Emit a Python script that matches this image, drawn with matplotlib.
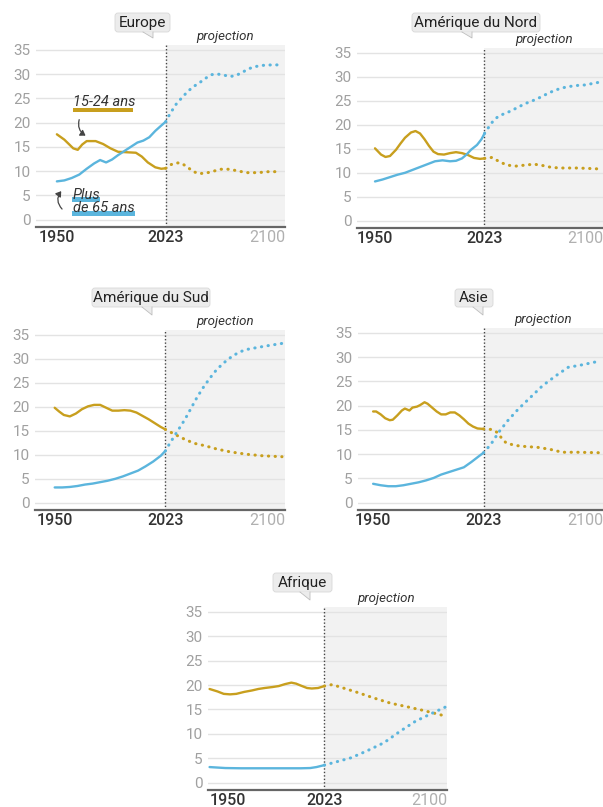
import matplotlib
matplotlib.use("Agg")
import matplotlib.pyplot as plt
from matplotlib.patches import FancyBboxPatch, Polygon, Rectangle, FancyArrowPatch

plt.rcParams["font.family"] = ["Roboto", "DejaVu Sans"]

# ---------------------------------------------------------------------------
# Data: share of population (%) by age group, history + projection to 2100
# ---------------------------------------------------------------------------
regions = ["Europe", "Amérique du Nord", "Amérique du Sud", "Asie", "Afrique"]
y_ticks = [0, 5, 10, 15, 20, 25, 30, 35]
x_ticks = [1950, 2023, 2100]
split_year = 2023

eu_young_years = [1950, 1955, 1961, 1964, 1967, 1970, 1976, 1981, 1986, 1991, 1997, 2003, 2007,
                  2011, 2016, 2020, 2023, 2026, 2030, 2033, 2037, 2041, 2045, 2050, 2055, 2060,
                  2066, 2072, 2078, 2085, 2092, 2100]
eu_young = [17.6, 16.5, 14.7, 14.4, 15.5, 16.2, 16.2, 15.6, 14.7, 14.0, 13.9, 13.8, 13.0,
            11.8, 10.8, 10.5, 10.6, 11.3, 11.7, 11.7, 11.0, 10.0, 9.5, 9.6, 10.0, 10.4,
            10.4, 10.0, 9.7, 9.7, 9.9, 9.9]
eu_old_years = [1950, 1955, 1960, 1965, 1970, 1975, 1979, 1983, 1987, 1991, 1996, 2000, 2004,
                2008, 2012, 2016, 2020, 2023, 2026, 2030, 2034, 2038, 2042, 2046, 2050, 2054,
                2058, 2062, 2066, 2070, 2074, 2078, 2082, 2088, 2094, 2100]
eu_old = [7.9, 8.1, 8.6, 9.3, 10.5, 11.6, 12.3, 11.8, 12.4, 13.3, 14.3, 15.1, 15.9,
          16.3, 17.0, 18.3, 19.4, 20.2, 21.9, 23.8, 25.2, 26.5, 27.5, 28.3, 29.2, 29.9,
          30.0, 29.8, 29.5, 29.7, 30.3, 31.0, 31.5, 31.8, 31.9, 31.9]

na_young_years = [1950, 1954, 1957, 1960, 1964, 1967, 1970, 1974, 1977, 1980, 1983, 1986, 1989,
                  1992, 1996, 2000, 2004, 2008, 2012, 2016, 2020, 2023, 2028, 2033, 2038, 2044,
                  2050, 2056, 2062, 2068, 2075, 2085, 2093, 2100]
na_young = [15.1, 13.8, 13.3, 13.5, 14.8, 16.1, 17.3, 18.4, 18.7, 18.2, 17.0, 15.6, 14.4,
            13.9, 13.8, 14.1, 14.3, 14.1, 13.7, 13.1, 12.9, 13.0, 13.2, 12.3, 11.6, 11.4,
            11.6, 11.8, 11.5, 11.1, 11.0, 11.0, 10.9, 10.8]
na_old_years = [1950, 1955, 1960, 1965, 1970, 1975, 1980, 1985, 1990, 1995, 2000, 2004, 2008,
                2011, 2014, 2018, 2021, 2023, 2026, 2029, 2032, 2036, 2040, 2045, 2050, 2055,
                2060, 2065, 2070, 2075, 2080, 2085, 2090, 2095, 2100]
na_old = [8.2, 8.6, 9.1, 9.6, 10.0, 10.6, 11.2, 11.8, 12.4, 12.6, 12.4, 12.5, 13.0,
          13.8, 14.8, 15.8, 17.0, 18.2, 19.6, 20.9, 21.7, 22.3, 22.8, 23.6, 24.4, 25.0,
          25.7, 26.5, 27.2, 27.7, 28.0, 28.2, 28.3, 28.6, 28.9]

sa_young_years = [1950, 1953, 1956, 1960, 1964, 1968, 1972, 1976, 1980, 1984, 1988, 1992, 1996,
                  2000, 2004, 2008, 2012, 2016, 2020, 2023, 2029, 2036, 2042, 2049, 2057, 2066,
                  2077, 2087, 2100]
sa_young = [19.8, 19.0, 18.3, 18.0, 18.6, 19.5, 20.1, 20.4, 20.4, 19.8, 19.2, 19.2, 19.3,
            19.2, 18.8, 18.1, 17.4, 16.6, 15.8, 15.3, 14.3, 13.2, 12.4, 11.9, 11.2, 10.6,
            10.1, 9.8, 9.6]
sa_old_years = [1950, 1955, 1960, 1965, 1970, 1975, 1980, 1985, 1990, 1995, 2000, 2005, 2010,
                2015, 2020, 2023, 2026, 2029, 2033, 2036, 2040, 2044, 2048, 2052, 2056, 2060,
                2064, 2068, 2072, 2076, 2081, 2090, 2100]
sa_old = [3.2, 3.2, 3.3, 3.5, 3.8, 4.0, 4.3, 4.6, 5.0, 5.5, 6.1, 6.7, 7.6,
          8.6, 9.8, 10.8, 12.4, 13.9, 15.9, 17.4, 19.7, 22.0, 24.0, 25.8, 27.4, 28.7,
          29.8, 30.7, 31.4, 31.9, 32.2, 32.7, 33.2]

as_young_years = [1950, 1952, 1955, 1958, 1961, 1963, 1966, 1969, 1971, 1974, 1976, 1979, 1981,
                  1984, 1986, 1989, 1992, 1995, 1998, 2001, 2004, 2007, 2010, 2013, 2016, 2019,
                  2023, 2028, 2032, 2035, 2038, 2044, 2050, 2059, 2067, 2075, 2085, 2100]
as_young = [18.8, 18.8, 18.2, 17.4, 17.0, 17.1, 18.0, 19.0, 19.4, 19.0, 19.6, 19.8, 20.1,
            20.7, 20.4, 19.6, 18.8, 18.2, 18.2, 18.6, 18.6, 18.0, 17.2, 16.3, 15.7, 15.3,
            15.2, 15.1, 14.5, 13.3, 12.3, 11.8, 11.6, 11.4, 11.0, 10.4, 10.4, 10.3]
as_old_years = [1950, 1955, 1960, 1965, 1970, 1975, 1980, 1985, 1990, 1995, 2000, 2005, 2010,
                2015, 2020, 2023, 2028, 2033, 2039, 2046, 2054, 2062, 2071, 2079, 2088, 2097,
                2100]
as_old = [3.9, 3.6, 3.4, 3.4, 3.6, 3.9, 4.2, 4.6, 5.1, 5.8, 6.3, 6.8, 7.3,
          8.4, 9.6, 10.3, 12.1, 14.5, 16.9, 19.3, 21.7, 24.1, 26.2, 27.9, 28.4, 29.0,
          29.1]

af_young_years = [1950, 1955, 1959, 1963, 1967, 1972, 1977, 1981, 1985, 1990, 1994, 1998, 2002,
                  2005, 2008, 2012, 2015, 2019, 2023, 2028, 2035, 2044, 2054, 2065, 2075, 2086,
                  2097, 2100]
af_young = [19.2, 18.7, 18.2, 18.1, 18.2, 18.6, 18.9, 19.2, 19.4, 19.6, 19.8, 20.2, 20.5,
            20.3, 19.9, 19.4, 19.3, 19.4, 19.8, 20.1, 19.4, 18.5, 17.4, 16.3, 15.6, 14.8,
            13.9, 13.6]
af_old_years = [1950, 1960, 1970, 1980, 1990, 2000, 2008, 2014, 2018, 2023, 2031, 2040, 2050,
                2061, 2071, 2081, 2092, 2100]
af_old = [3.2, 3.0, 2.95, 2.95, 2.95, 2.95, 2.95, 3.0, 3.2, 3.6, 4.3, 5.1, 6.5,
          8.2, 10.5, 12.6, 14.3, 15.5]

young_series = [(eu_young_years, eu_young), (na_young_years, na_young), (sa_young_years, sa_young),
                (as_young_years, as_young), (af_young_years, af_young)]
old_series = [(eu_old_years, eu_old), (na_old_years, na_old), (sa_old_years, sa_old),
              (as_old_years, as_old), (af_old_years, af_old)]

# ---------------------------------------------------------------------------
# Layout (figure pixels) and styles
# ---------------------------------------------------------------------------
W, H = 603, 807
GOLD = "#C89F1E"
BLUE = "#5BB5DD"
GRID = "#e3e3e3"
SHADE = "#f2f2f2"

# (left, top, right, bottom) in pixels, xlim
panels = [
    dict(box=(36, 45, 285, 227), xlim=(1936, 2103)),
    dict(box=(357, 48, 603, 228), xlim=(1938, 2102)),
    dict(box=(35, 330, 285, 510), xlim=(1937, 2102)),
    dict(box=(358, 328, 603, 510), xlim=(1940, 2102)),
    dict(box=(208, 607, 447, 790), xlim=(1949, 2101)),
]
# title bubbles: (x0, y0, x1, y1), pointer tip (x, y)
bubbles = [
    ((115, 13, 170, 32), (153, 38)),
    ((412, 13, 540, 32), (472, 38)),
    ((92, 288, 210, 307), (152, 315)),
    ((455, 289, 493, 307), (483, 315)),
    ((273, 573, 332, 592), (310, 600)),
]


def split(years, vals):
    hist = [(y, v) for y, v in zip(years, vals) if y <= split_year]
    proj = [(y, v) for y, v in zip(years, vals) if y >= split_year]
    return list(zip(*hist)), list(zip(*proj))


fig = plt.figure(figsize=(W / 100, H / 100), dpi=100)

for i, p in enumerate(panels):
    l, t, r, b = p["box"]
    ax = fig.add_axes([l / W, 1 - b / H, (r - l) / W, (b - t) / H])
    ax.set_xlim(*p["xlim"])
    ax.set_ylim(-1.5, 36)
    ax.axvspan(split_year, p["xlim"][1], color=SHADE, zorder=0, lw=0)
    for yt in y_ticks:
        ax.axhline(yt, color=GRID, lw=1, zorder=1)
    ax.axvline(split_year, color="#444", lw=1, ls=(0, (1, 1.5)), zorder=2)
    for sp in ["top", "right", "left"]:
        ax.spines[sp].set_visible(False)
    ax.spines["bottom"].set_color("#666")
    ax.spines["bottom"].set_linewidth(1.6)

    for (yrs, vals), col in [(young_series[i], GOLD), (old_series[i], BLUE)]:
        (hx, hy), (px, py) = split(yrs, vals)
        ax.plot(hx, hy, color=col, lw=1.7, zorder=4, solid_capstyle="round")
        ax.plot(px, py, color=col, lw=2.2, ls=(0, (0.1, 2.1)),
                dash_capstyle="round", zorder=4)

    ax.set_yticks(y_ticks)
    ax.set_yticklabels([str(v) for v in y_ticks], color="#a0a0a0", fontsize=11)
    ax.tick_params(axis="y", length=0, pad=4)
    ax.set_xticks([])
    # x labels, centred ~10 px under the baseline
    tr = ax.get_xaxis_transform()
    ha0 = "left" if i == 4 else "center"
    for xv, lab, ha, col, fw in [(1950, "1950", ha0, "#333", "medium"),
                                 (2023, "2023", "center", "#333", "medium")]:
        ax.annotate(lab, (xv, 0), xycoords=tr, xytext=(0, -7.5), textcoords="offset points",
                    ha=ha, va="center", fontsize=11.5, color=col, fontweight=fw)
    ax.annotate("2100", (1, 0), xycoords="axes fraction", xytext=(0, -7.5),
                textcoords="offset points", ha="right", va="center",
                fontsize=11.5, color="#b0b0b0")
    # projection label
    ax.text((split_year + p["xlim"][1]) / 2, 1.012, "projection", transform=tr,
            ha="center", va="bottom", fontsize=9.5, style="italic", color="#333")

# overlay in pixel coordinates for bubbles and legend notes
ov = fig.add_axes([0, 0, 1, 1], zorder=10)
ov.set_xlim(0, W)
ov.set_ylim(H, 0)
ov.axis("off")
ov.patch.set_alpha(0)

for name, ((x0, y0, x1, y1), (tx, ty)) in zip(regions, bubbles):
    ov.add_patch(FancyBboxPatch((x0, y0), x1 - x0, y1 - y0,
                                boxstyle="round,pad=0,rounding_size=3",
                                fc="#ececec", ec="#d8d8d8", lw=0.6))
    ov.add_patch(Polygon([(tx - 10, y1 - 0.5), (tx, ty), (tx, y1 - 0.5)],
                         closed=True, fc="#ececec", ec="none"))
    ov.plot([tx - 10, tx, tx], [y1, ty, y1], color="#bdbdbd", lw=0.6)
    ov.text((x0 + x1) / 2, (y0 + y1) / 2 + 0.5, name, ha="center", va="center",
            fontsize=11, color="#222")

# Europe legend notes
ov.add_patch(Rectangle((73, 107.5), 60, 4.5, fc=GOLD, ec="none"))
ov.text(73, 109, "15-24 ans", ha="left", va="bottom", fontsize=10.5,
        style="italic", color="#333")
ov.add_patch(FancyArrowPatch((80, 117), (88, 137), connectionstyle="arc3,rad=0.45",
                             arrowstyle="-|>,head_length=3,head_width=2",
                             color="#444", lw=0.9))

ov.add_patch(Rectangle((72, 196.5), 28, 5, fc=BLUE, ec="none"))
ov.add_patch(Rectangle((72, 210.5), 63, 5, fc=BLUE, ec="none"))
ov.text(73, 202, "Plus", ha="left", va="bottom", fontsize=10.5,
        style="italic", color="#333")
ov.text(73, 215.5, "de 65 ans", ha="left", va="bottom", fontsize=10.5,
        style="italic", color="#333")
ov.add_patch(FancyArrowPatch((64, 211), (63, 189), connectionstyle="arc3,rad=-0.5",
                             arrowstyle="-|>,head_length=3,head_width=2",
                             color="#444", lw=0.9))

fig.savefig("out.png", dpi=100)
